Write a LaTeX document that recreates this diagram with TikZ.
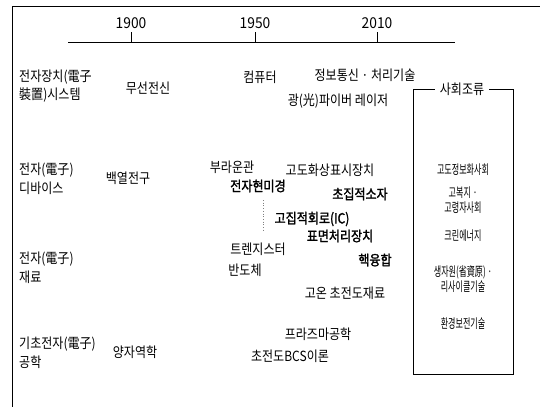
\documentclass[tikz,border=0pt]{standalone}
\usepackage{fontspec}
\newfontfamily\kr{Noto Sans CJK KR}[FakeStretch=0.86]
\newfontfamily\krb{Noto Sans CJK KR}[FakeStretch=0.86,FakeBold=1.6]
\newfontfamily\krs{Noto Sans CJK KR}[FakeStretch=0.62]
\newfontfamily\yr{Noto Sans CJK KR}[FakeStretch=0.92]
\begin{document}
\begin{tikzpicture}[x=1pt,y=-1pt,
  every node/.style={inner sep=1pt},
  lbl/.style={font=\kr\fontsize{14}{15}\selectfont},
  blbl/.style={font=\krb\fontsize{14}{15}\selectfont},
  box/.style={font=\krs\fontsize{13}{14}\selectfont},
  side/.style={lbl,anchor=west},
  year/.style={font=\yr\fontsize{15}{16}\selectfont},
  rule/.style={line width=0.6pt},
  dots/.style={line width=0.7pt,dotted,gray}]
\useasboundingbox (0,0) rectangle (540,407);
\fill[white] (0,0) rectangle (540,407);
% frame
\coordinate (fTR) at (540,6);
\coordinate (fTL) at (12,6);
\coordinate (fBL) at (12,407);
\draw[rule] (fTR) -- (fTL) -- (fBL);
% timeline
\coordinate (tA) at (68,42);
\coordinate (tB) at (455,42);
\draw[rule] (tA) -- (tB);
\foreach \x/\y/\n in {131/1900/a,255/1950/b,377/2010/c}{
  \coordinate (k\n) at (\x,42);
  \coordinate (kt\n) at (\x,32);
  \draw[rule] (k\n) -- (kt\n);
  \node[year] (y\n) at (\x,23) {\y};
}
% row 1
\node[side] (r1a) at (18,77) {전자장치(電子};
\node[side] (r1b) at (18,95) {裝置)시스템};
\node[lbl] (n1) at (148,88) {무선전신};
\node[lbl] (n2) at (260,77) {컴퓨터};
\node[lbl] (n3) at (365,75) {정보통신 · 처리기술};
\node[lbl] (n4) at (338,101) {광(光)파이버 레이저};
% row 2
\node[side] (r2a) at (18,170) {전자(電子)};
\node[side] (r2b) at (18,188) {디바이스};
\node[lbl] (n5) at (128,178) {백열전구};
\node[lbl] (n6) at (232,167) {부라운관};
\node[blbl] (n7) at (258,186) {전자현미경};
\node[lbl] (n8) at (330,170) {고도화상표시장치};
\node[blbl] (n9) at (360,194) {초집적소자};
\node[blbl] (n10) at (312,219) {고집적회로(IC)};
\node[blbl] (n11) at (340,236) {표면처리장치};
% row 3
\node[side] (r3a) at (18,259) {전자(電子)};
\node[side] (r3b) at (18,277) {재료};
\node[lbl] (n12) at (258,249) {트렌지스터};
\node[lbl] (n13) at (245,270) {반도체};
\node[blbl] (n14) at (375,260) {핵융합};
\node[lbl] (n15) at (345,293) {고온 초전도재료};
% row 4
\node[side] (r4a) at (18,344) {기초전자(電子)};
\node[side] (r4b) at (18,362) {공학};
\node[lbl] (n16) at (135,352) {양자역학};
\node[lbl] (n17) at (318,334) {프라즈마공학};
\node[lbl] (n18) at (290,356) {초전도BCS이론};
% dotted link
\coordinate (d1) at (263,200);
\coordinate (d2) at (263,232);
\draw[dots] (d1) -- (d2);
% social trend box
\node[lbl,inner sep=5pt] (st) at (462,89) {사회조류};
\coordinate (bTL) at (413,89);
\coordinate (bBL) at (413,374);
\coordinate (bBR) at (513,374);
\coordinate (bTR) at (513,89);
\draw[rule] (st.west) -- (bTL) -- (bBL) -- (bBR) -- (bTR) -- (st.east);
\node[box] (s1) at (463,170) {고도정보화사회};
\node[box] (s2) at (463,193) {고복지 ·};
\node[box] (s3) at (463,208) {고령자사회};
\node[box] (s4) at (463,236) {크린에너지};
\node[box] (s5) at (463,272) {생자원(省資原) ·};
\node[box] (s6) at (463,287) {리사이클기술};
\node[box] (s7) at (463,324) {환경보전기술};
\end{tikzpicture}
\end{document}
